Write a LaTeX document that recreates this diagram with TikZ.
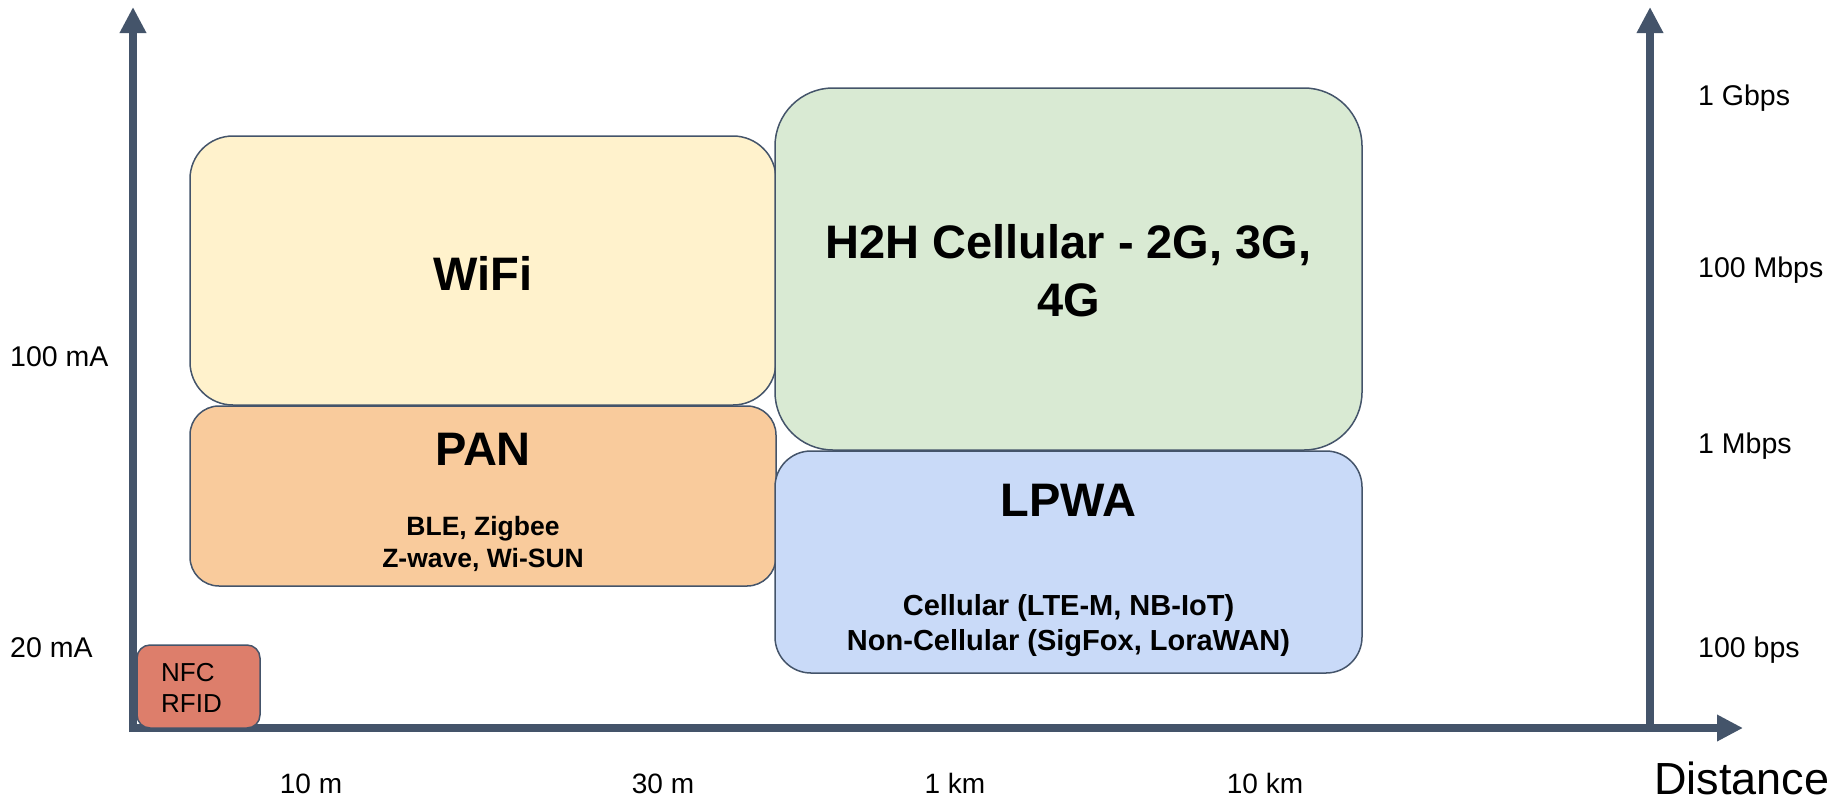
\documentclass[tikz,border=0pt]{standalone}
\usepackage{fontspec}
\setmainfont{Liberation Sans}
\usetikzlibrary{arrows.meta}
\definecolor{axiscol}{HTML}{44546A}
\definecolor{wififill}{HTML}{FFF2CC}
\definecolor{panfill}{HTML}{F9CB9C}
\definecolor{cellfill}{HTML}{D9EAD3}
\definecolor{lpwafill}{HTML}{C9DAF8}
\definecolor{nfcfill}{HTML}{DD7E6B}
\tikzset{
  axisline/.style={draw=axiscol, line width=7.5pt, -{Triangle[length=26pt,width=25pt]}},
  regionbox/.style={draw=axiscol, line width=1.5pt, inner sep=0pt, outer sep=0pt},
  bigtitle/.style={font=\fontsize{47}{56}\selectfont\bfseries, inner sep=0pt, anchor=base},
  subtext/.style={font=\fontsize{26.5}{32}\selectfont\bfseries, inner sep=0pt, anchor=base},
  lpwatext/.style={font=\fontsize{29}{35}\selectfont\bfseries, inner sep=0pt, anchor=base},
  axislabel/.style={font=\fontsize{28.5}{34}\selectfont, inner sep=0pt, anchor=base west},
  ticklabel/.style={font=\fontsize{28}{34}\selectfont, inner sep=0pt, anchor=base},
}
\begin{document}
\begin{tikzpicture}[x=1pt,y=-1pt]
\useasboundingbox (0,0) rectangle (1841,801);
% axes
\coordinate (origin) at (133,732);
\coordinate (ytop) at (133,7);
\coordinate (xstart) at (129,728);
\coordinate (xend) at (1743,728);
\coordinate (rbot) at (1650,732);
\coordinate (rtop) at (1650,7);
\draw[axisline] (origin) -- (ytop);
\draw[axisline] (xstart) -- (xend);
\draw[axisline] (rbot) -- (rtop);
% regions
\node[regionbox, fill=wififill, minimum width=586pt, minimum height=269pt, rounded corners=43pt] (wifi) at (483,270.5) {};
\node[regionbox, fill=panfill, minimum width=586pt, minimum height=180pt, rounded corners=29pt] (pan) at (483,496) {};
\node[regionbox, fill=cellfill, minimum width=587pt, minimum height=362pt, rounded corners=58pt] (cell) at (1068.5,269) {};
\node[regionbox, fill=lpwafill, minimum width=587pt, minimum height=222pt, rounded corners=36pt] (lpwa) at (1068.5,562) {};
\node[regionbox, fill=nfcfill, minimum width=123pt, minimum height=83pt, rounded corners=13pt] (nfc) at (198.5,686.5) {};
% region texts
\node[bigtitle] (wifit) at (483,290) {WiFi};
\node[bigtitle] (h2ha) at (1068.5,258) {H2H Cellular - 2G, 3G,};
\node[bigtitle] (h2hb) at (1068.5,316) {4G};
\node[bigtitle] (pant) at (483,465) {PAN};
\node[subtext] (pana) at (483,535) {BLE, Zigbee};
\node[subtext] (panb) at (483,567) {Z-wave, Wi-SUN};
\node[bigtitle] (lpwat) at (1068.5,516) {LPWA};
\node[lpwatext] (lpwaa) at (1068.5,615) {Cellular (LTE-M, NB-IoT)};
\node[lpwatext] (lpwab) at (1068.5,650) {Non-Cellular (SigFox, LoraWAN)};
\node[font=\fontsize{26}{31}\selectfont, inner sep=0pt, anchor=base west] (nfca) at (161,681) {NFC};
\node[font=\fontsize{26}{31}\selectfont, inner sep=0pt, anchor=base west] (nfcb) at (161,712) {RFID};
% left labels
\node[axislabel] (ma100) at (10,366) {100 mA};
\node[axislabel] (ma20) at (10,657) {20 mA};
% right labels
\node[axislabel] (gbps) at (1698,105) {1 Gbps};
\node[axislabel] (mbps100) at (1698,277) {100 Mbps};
\node[axislabel] (mbps1) at (1698,453) {1 Mbps};
\node[axislabel] (bps100) at (1698,657) {100 bps};
% distance ticks
\node[ticklabel] (d10m) at (311,793) {10 m};
\node[ticklabel] (d30m) at (663,793) {30 m};
\node[ticklabel] (d1km) at (955,793) {1 km};
\node[ticklabel] (d10km) at (1265,793) {10 km};
\node[font=\fontsize{45}{54}\selectfont, inner sep=0pt, anchor=base west] (dist) at (1654,794) {Distance};
\end{tikzpicture}
\end{document}
